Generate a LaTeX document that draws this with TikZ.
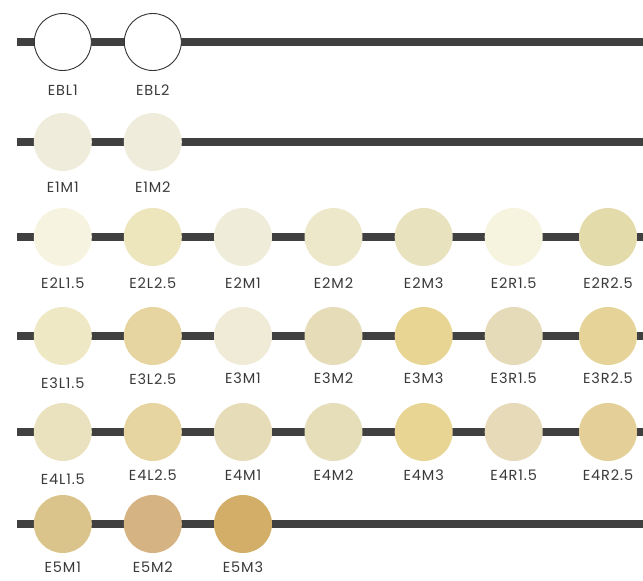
\documentclass[tikz,border=0pt]{standalone}
\usepackage{fontspec}
\setmainfont{Poppins}[LetterSpace=6]
\usepackage{tikz}

\tikzset{
  bar/.style={line width=8pt,color=barColor},
  shade/.style={circle,minimum size=58pt,inner sep=0pt,fill=#1},
  blankshade/.style={circle,minimum size=57pt,inner sep=0pt,fill=white,draw=black!80,line width=0.9pt},
  shadelabel/.style={text=txtColor,inner sep=0pt,font=\fontsize{14.5}{16}\selectfont}
}

\begin{document}
\begin{tikzpicture}[x=1pt,y=-1pt]
\useasboundingbox (0,0) rectangle (643,581);
\definecolor{barColor}{RGB}{64,64,64}
\definecolor{txtColor}{RGB}{58,58,58}
% shade colours
\definecolor{cE1M1}{RGB}{240,236,220}
\definecolor{cE1M2}{RGB}{240,236,220}
\definecolor{cE2L15}{RGB}{246,244,224}
\definecolor{cE2L25}{RGB}{237,229,188}
\definecolor{cE2M1}{RGB}{240,236,218}
\definecolor{cE2M2}{RGB}{237,232,202}
\definecolor{cE2M3}{RGB}{232,226,190}
\definecolor{cE2R15}{RGB}{246,244,222}
\definecolor{cE2R25}{RGB}{228,219,170}
\definecolor{cE3L15}{RGB}{238,232,196}
\definecolor{cE3L25}{RGB}{230,213,160}
\definecolor{cE3M1}{RGB}{239,235,214}
\definecolor{cE3M2}{RGB}{230,221,184}
\definecolor{cE3M3}{RGB}{232,213,147}
\definecolor{cE3R15}{RGB}{230,219,184}
\definecolor{cE3R25}{RGB}{230,211,152}
\definecolor{cE4L15}{RGB}{234,226,190}
\definecolor{cE4L25}{RGB}{230,213,160}
\definecolor{cE4M1}{RGB}{230,221,184}
\definecolor{cE4M2}{RGB}{230,222,184}
\definecolor{cE4M3}{RGB}{232,213,147}
\definecolor{cE4R15}{RGB}{230,218,184}
\definecolor{cE4R25}{RGB}{229,207,152}
\definecolor{cE5M1}{RGB}{219,196,140}
\definecolor{cE5M2}{RGB}{213,179,131}
\definecolor{cE5M3}{RGB}{210,174,104}

% row 1
\coordinate (r1w) at (17,42); \coordinate (r1e) at (643,42);
\draw[bar] (r1w) -- (r1e);
\foreach \x/\n/\t in {62.8/ebl1/EBL1,152.8/ebl2/EBL2}{
  \node[blankshade] (\n) at (\x,42) {};
  \node[shadelabel] (\n-t) at (\x,90) {\t};
}

% row 2
\coordinate (r2w) at (17,142); \coordinate (r2e) at (643,142);
\draw[bar] (r2w) -- (r2e);
\foreach \x/\n/\t in {62.8/e1m1/E1M1,152.8/e1m2/E1M2}{
  \node[shade=c\t] (\n) at (\x,142) {};
  \node[shadelabel] (\n-t) at (\x,187) {\t};
}

% row 3
\coordinate (r3w) at (17,237); \coordinate (r3e) at (643,237);
\draw[bar] (r3w) -- (r3e);
\foreach \x/\n/\c/\t in {62.8/e2l15/E2L15/E2L1.5,152.8/e2l25/E2L25/E2L2.5,
    243/e2m1/E2M1/E2M1,333.5/e2m2/E2M2/E2M2,423.7/e2m3/E2M3/E2M3,
    513.7/e2r15/E2R15/E2R1.5,608/e2r25/E2R25/E2R2.5}{
  \node[shade=c\c] (\n) at (\x,237) {};
  \node[shadelabel] (\n-t) at (\x,283) {\t};
}

% row 4
\coordinate (r4w) at (17,336); \coordinate (r4e) at (643,336);
\draw[bar] (r4w) -- (r4e);
\foreach \x/\n/\c/\t/\ly in {62.8/e3l15/E3L15/E3L1.5/383,152.8/e3l25/E3L25/E3L2.5/379,
    243/e3m1/E3M1/E3M1/378,333.5/e3m2/E3M2/E3M2/378,423.7/e3m3/E3M3/E3M3/378,
    513.7/e3r15/E3R15/E3R1.5/378,608/e3r25/E3R25/E3R2.5/378}{
  \node[shade=c\c] (\n) at (\x,336) {};
  \node[shadelabel] (\n-t) at (\x,\ly) {\t};
}

% row 5
\coordinate (r5w) at (17,432); \coordinate (r5e) at (643,432);
\draw[bar] (r5w) -- (r5e);
\foreach \x/\n/\c/\t/\ly in {62.8/e4l15/E4L15/E4L1.5/479,152.8/e4l25/E4L25/E4L2.5/475,
    243/e4m1/E4M1/E4M1/475,333.5/e4m2/E4M2/E4M2/475,423.7/e4m3/E4M3/E4M3/475,
    513.7/e4r15/E4R15/E4R1.5/475,608/e4r25/E4R25/E4R2.5/475}{
  \node[shade=c\c] (\n) at (\x,432) {};
  \node[shadelabel] (\n-t) at (\x,\ly) {\t};
}

% row 6
\coordinate (r6w) at (17,524); \coordinate (r6e) at (643,524);
\draw[bar] (r6w) -- (r6e);
\foreach \x/\n/\t in {62.8/e5m1/E5M1,152.8/e5m2/E5M2,243/e5m3/E5M3}{
  \node[shade=c\t] (\n) at (\x,524) {};
  \node[shadelabel] (\n-t) at (\x,567) {\t};
}
\end{tikzpicture}
\end{document}
